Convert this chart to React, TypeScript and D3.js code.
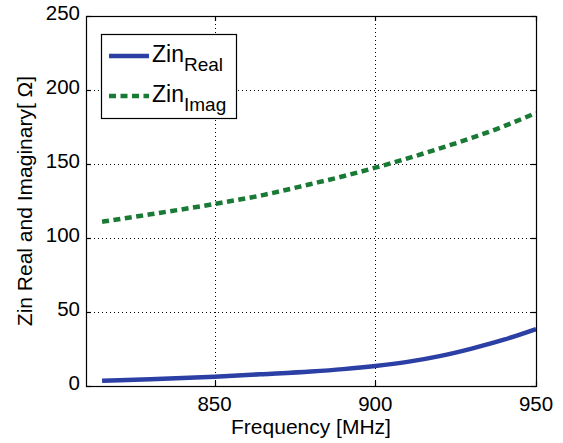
import React, { useEffect, useRef } from 'react';
import * as d3 from 'd3';

const freq = [815, 830, 850, 865, 880, 890, 900, 910, 920, 930, 940, 950];
const zinReal = [3.5, 4.5, 6.3, 8, 9.8, 11.4, 13.5, 16.3, 20.2, 25.3, 31.3, 38.5];
const zinImag = [111, 116, 123, 129, 136.5, 141.7, 147.5, 153.8, 160.5, 167.6, 175.5, 184.5];
const xTicks = [850, 900, 950];
const yTicks = [0, 50, 100, 150, 200, 250];

const FONT = 'Liberation Sans, Arial, sans-serif';

const App = () => {
  const ref = useRef<SVGSVGElement | null>(null);

  useEffect(() => {
    const svg = d3.select(ref.current);
    svg.selectAll('*').remove();

    const width = 563;
    const height = 443;
    const margin = { top: 16, right: 27, bottom: 57, left: 86 };

    const x = d3.scaleLinear()
      .domain([810, 950])
      .range([margin.left, width - margin.right]);

    const y = d3.scaleLinear()
      .domain([0, 250])
      .range([height - margin.bottom, margin.top]);

    const x0 = margin.left, x1 = width - margin.right;
    const y0 = height - margin.bottom, y1 = margin.top;

    svg.append('rect')
      .attr('width', width)
      .attr('height', height)
      .attr('fill', 'white');

    // grid (dotted)
    const grid = svg.append('g')
      .attr('stroke', '#000')
      .attr('stroke-width', 1)
      .attr('stroke-dasharray', '1,3');
    xTicks.filter(t => t < 950).forEach(t => {
      grid.append('line')
        .attr('x1', Math.round(x(t)) + 0.5).attr('x2', Math.round(x(t)) + 0.5)
        .attr('y1', y1).attr('y2', y0);
    });
    yTicks.filter(t => t > 0 && t < 250).forEach(t => {
      grid.append('line')
        .attr('x1', x0).attr('x2', x1)
        .attr('y1', Math.round(y(t)) + 0.5).attr('y2', Math.round(y(t)) + 0.5);
    });

    // curves
    const line = (vals: number[]) => d3.line<number>()
      .x((_, i) => x(freq[i]))
      .y(d => y(d))
      .curve(d3.curveMonotoneX)(vals);

    svg.append('path')
      .attr('d', line(zinReal))
      .attr('fill', 'none')
      .attr('stroke', '#2b3fa5')
      .attr('stroke-width', 4.5);

    svg.append('path')
      .attr('d', line(zinImag))
      .attr('fill', 'none')
      .attr('stroke', '#197a36')
      .attr('stroke-width', 4.5)
      .attr('stroke-dasharray', '7,4.5');

    // frame + inward ticks
    svg.append('rect')
      .attr('x', x0 + 0.5).attr('y', y1 + 0.5)
      .attr('width', x1 - x0).attr('height', y0 - y1)
      .attr('fill', 'none')
      .attr('stroke', '#000')
      .attr('stroke-width', 1.2);

    const ticks = svg.append('g').attr('stroke', '#000').attr('stroke-width', 1.2);
    xTicks.forEach(t => {
      const px = Math.round(x(t)) + 0.5;
      ticks.append('line').attr('x1', px).attr('x2', px).attr('y1', y0).attr('y2', y0 - 5);
      ticks.append('line').attr('x1', px).attr('x2', px).attr('y1', y1).attr('y2', y1 + 5);
    });
    yTicks.forEach(t => {
      const py = Math.round(y(t)) + 0.5;
      ticks.append('line').attr('x1', x0).attr('x2', x0 + 5).attr('y1', py).attr('y2', py);
      ticks.append('line').attr('x1', x1).attr('x2', x1 - 5).attr('y1', py).attr('y2', py);
    });

    // tick labels
    svg.selectAll('text.xt')
      .data(xTicks)
      .enter().append('text')
      .attr('class', 'xt')
      .attr('x', d => x(d))
      .attr('y', y0 + 25)
      .attr('text-anchor', 'middle')
      .style('font-family', FONT)
      .style('font-size', '20.5px')
      .text(d => d);

    svg.selectAll('text.yt')
      .data(yTicks)
      .enter().append('text')
      .attr('class', 'yt')
      .attr('x', x0 - 6)
      .attr('y', d => y(d) + 4)
      .attr('text-anchor', 'end')
      .style('font-family', FONT)
      .style('font-size', '20.5px')
      .text(d => d);

    // axis labels
    svg.append('text')
      .attr('x', (x0 + x1) / 2)
      .attr('y', 434)
      .attr('text-anchor', 'middle')
      .style('font-family', FONT)
      .style('font-size', '21px')
      .text('Frequency [MHz]');

    svg.append('text')
      .attr('transform', `translate(32,${(y0 + y1) / 2}) rotate(-90)`)
      .attr('text-anchor', 'middle')
      .style('font-family', FONT)
      .style('font-size', '21px')
      .text('Zin Real and Imaginary[ Ω]');

    // legend
    const lg = svg.append('g');
    lg.append('rect')
      .attr('x', 101.5).attr('y', 34.5)
      .attr('width', 135).attr('height', 84)
      .attr('fill', 'white')
      .attr('stroke', '#000')
      .attr('stroke-width', 1.2);

    const items = [
      { name: 'Real', color: '#2b3fa5', dash: null, y: 56 },
      { name: 'Imag', color: '#197a36', dash: '7,4.5', y: 96 }
    ];
    items.forEach(it => {
      lg.append('line')
        .attr('x1', 109).attr('x2', 149)
        .attr('y1', it.y).attr('y2', it.y)
        .attr('stroke', it.color)
        .attr('stroke-width', 4.5)
        .attr('stroke-dasharray', it.dash);
      const t = lg.append('text')
        .attr('x', 152)
        .attr('y', it.y + 6)
        .style('font-family', FONT)
        .style('font-size', '23px');
      t.append('tspan').text('Zin');
      t.append('tspan')
        .attr('dy', 9)
        .style('font-size', '19px')
        .text(it.name);
    });
  }, []);

  return (
    <div style={{ position: 'fixed', top: 0, left: 0 }}>
      <svg ref={ref} width={563} height={443} style={{ display: 'block' }} />
    </div>
  );
};

export default App;
